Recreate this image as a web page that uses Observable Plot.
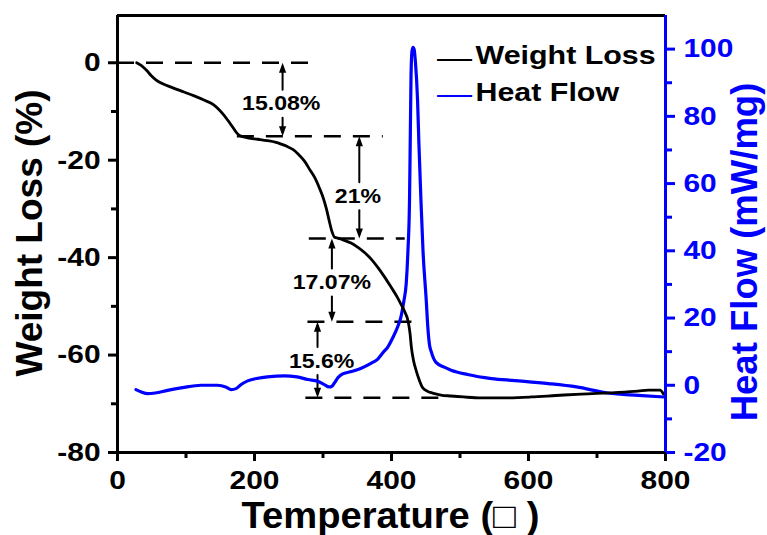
<!DOCTYPE html>
<html><head><meta charset="utf-8">
<script src="https://cdn.jsdelivr.net/npm/d3@7"></script>
<script src="https://cdn.jsdelivr.net/npm/@observablehq/plot@0.6"></script>
<style>body{margin:0;background:#fff;}</style>
</head><body><div id="chart"></div>
<script>
// ---- data ----
const weightT = [28,35,42,49,56,66,80,97,112,127,140,148,155,161,168,174,179,190,205,219,230,239,248,256,264,273,281,288,295,300,305,309,313,317,322,330,341,351,361,371,380,390,400,408,414,420,424,427,429,432,436,441,445,452,460,472,487,505,531,560,604,640,677,726,760,775,792,797];
const weightLoss = [0,-0.6,-1.5,-2.6,-3.5,-4.3,-5.1,-6.0,-6.8,-7.7,-8.6,-9.6,-10.7,-11.8,-13.2,-14.4,-15.0,-15.4,-15.7,-16.0,-16.3,-16.7,-17.2,-17.8,-18.8,-20.2,-22.0,-23.6,-25.8,-27.6,-30.0,-32.4,-34.6,-35.8,-36.0,-36.4,-37.0,-37.9,-39.0,-40.4,-42.0,-44.0,-46.2,-48.0,-49.6,-51.3,-52.9,-55.5,-58.4,-61.0,-63.2,-65.3,-66.6,-67.4,-67.8,-68.2,-68.4,-68.6,-68.8,-68.8,-68.6,-68.3,-68.0,-67.7,-67.4,-67.2,-67.2,-68.0];
const heatT = [27,35,44,55,73,95,122,146,158,166,173,181,190,205,219,243,262,278,292,302,309,313,317,322,328,340,355,370,380,388,395,402,409,414,418,421.5,424,426.3,427.5,428.5,430,431.5,433,435,438,440,443,446,450.7,453,455.5,458,465,477,487,511,546,580,629,670,716,760,799];
const heatFlow = [-1.3,-2.0,-2.5,-2.3,-1.5,-0.7,0,0,-0.5,-1.3,-1.0,0.3,1.3,2.1,2.5,2.8,2.5,1.7,1.2,0.2,-0.5,-0.3,0.8,2.3,3.3,4.0,5.0,6.5,7.8,9.8,11.5,14.2,17.4,20.5,25,30.3,40,55,75,92,99.5,100.5,100,96,85,72,55,40,25.3,17.4,12,10,6.8,5.4,4.5,3.2,2.0,1.4,0.5,-0.5,-2.3,-3.0,-3.5];

const xDomain = [0, 800];
const leftDomain = [-80, 9.7];
const rightDomain = [-20, 110];
const xTicks = [0, 200, 400, 600, 800];
const xMinor = [100, 300, 500, 700];
const leftTicks = [-80, -60, -40, -20, 0];
const leftMinor = [-70, -50, -30, -10];
const rightTicks = [-20, 0, 20, 40, 60, 80, 100];
const rightMinor = [-10, 10, 30, 50, 70, 90];

const levels = [0, -15.08, -36.08, -53.15, -68.75];
const levelStart = [0, 175, 280, 278, 275];
const levelEnd = [285, 388, 420, 432, 475];
const stepLabels = ["15.08%", "21%", "17.07%", "15.6%"];
const arrowX = [241, 353, 313, 292];
const labelX = [239, 351, 313, 298];
const labelY = [-8.4, -27.4, -45.1, -61.2];

const legendLabels = ["Weight Loss", "Heat Flow"];
const seriesColors = ["#000000", "#0000ff"];
const xTitle = "Temperature (□ )";
const yTitle = "Weight Loss (%)";
const y2Title = "Heat Flow (mW/mg)";

// ---- derived tables ----
const k = (leftDomain[1] - leftDomain[0]) / (rightDomain[1] - rightDomain[0]);
const toLeft = h => leftDomain[0] + (h - rightDomain[0]) * k;
const fromLeft = v => rightDomain[0] + (v - leftDomain[0]) / k;

const weight = weightT.map((t, i) => ({t, v: weightLoss[i]}));
const heat = heatT.map((t, i) => ({t, v: toLeft(heatFlow[i])}));
const dashes = levels.map((v, i) => ({v, x1: levelStart[i], x2: levelEnd[i]}));
const steps = stepLabels.map((label, i) => ({label, ax: arrowX[i], lx: labelX[i], ly: labelY[i], top: levels[i], bottom: levels[i + 1]}));

// narrow filled arrow heads (tip at the anchor point)
const headUp = {draw(ctx) { ctx.moveTo(0, 0); ctx.lineTo(-3.6, 10); ctx.lineTo(3.6, 10); ctx.closePath(); }};
const headDown = {draw(ctx) { ctx.moveTo(0, 0); ctx.lineTo(-3.6, -10); ctx.lineTo(3.6, -10); ctx.closePath(); }};

const blue = seriesColors[1];
const fmt = d => String(d);

const plot = Plot.plot({
  width: 767, height: 535,
  marginLeft: 117, marginRight: 102, marginTop: 15, marginBottom: 83,
  x: {domain: xDomain},
  y: {domain: leftDomain},
  style: {fontFamily: "'Liberation Sans', Arial, sans-serif", fontWeight: "bold", fontSize: "26px", color: "#000", background: "#fff", overflow: "visible"},
  marks: [
    Plot.ruleY(dashes, {y: "v", x1: "x1", x2: "x2", stroke: "#000", strokeWidth: 2.5, strokeDasharray: "17,12"}),
    Plot.arrow(steps, {x1: "ax", y1: "ly", x2: "ax", y2: "top", insetStart: 14, insetEnd: 4, headLength: 0, strokeWidth: 2, stroke: "#000"}),
    Plot.arrow(steps, {x1: "ax", y1: "ly", x2: "ax", y2: "bottom", insetStart: 14, insetEnd: 4, headLength: 0, strokeWidth: 2, stroke: "#000"}),
    Plot.dot(steps, {x: "ax", y: "top", symbol: headUp, fill: "#000", stroke: null}),
    Plot.dot(steps, {x: "ax", y: "bottom", symbol: headDown, fill: "#000", stroke: null}),
    Plot.text(steps, {x: "lx", y: "ly", text: "label", fontSize: 21, lineAnchor: "middle", fill: "#000"}),
    Plot.line(heat, {x: "t", y: "v", stroke: blue, strokeWidth: 3.2, curve: "monotone-x"}),
    Plot.line(weight, {x: "t", y: "v", stroke: seriesColors[0], strokeWidth: 2.8, curve: "monotone-x"}),
    // frame
    Plot.ruleY([leftDomain[0]], {stroke: "#000", strokeWidth: 3}),
    Plot.ruleY([leftDomain[1]], {stroke: "#000", strokeWidth: 3}),
    Plot.ruleX([xDomain[0]], {stroke: "#000", strokeWidth: 3}),
    Plot.ruleX([xDomain[1]], {stroke: blue, strokeWidth: 3}),
    // axes
    Plot.axisX(xTicks, {anchor: "bottom", tickSize: 9, tickPadding: 9, strokeWidth: 3, fontSize: 26, tickFormat: fmt, label: null}),
    Plot.axisX(xMinor, {anchor: "bottom", tickSize: 6, strokeWidth: 3, tickFormat: () => "", label: null}),
    Plot.axisY(leftTicks, {anchor: "left", tickSize: 9, tickPadding: 8, strokeWidth: 3, fontSize: 26, tickFormat: fmt, label: null}),
    Plot.axisY(leftMinor, {anchor: "left", tickSize: 6, strokeWidth: 3, tickFormat: () => "", label: null}),
    Plot.axisY(rightTicks.map(toLeft), {anchor: "right", color: blue, tickSize: 9, tickPadding: 9, strokeWidth: 3, fontSize: 26, tickFormat: v => String(Math.round(fromLeft(v))), label: null}),
    Plot.axisY(rightMinor.map(toLeft), {anchor: "right", color: blue, tickSize: 6, strokeWidth: 3, tickFormat: () => "", label: null}),
    // titles
    Plot.text([xTitle], {text: d => d, frameAnchor: "bottom", textAnchor: "middle", dx: -1, dy: 50, lineAnchor: "top", fontSize: 36, fill: "#000"}),
    Plot.text([yTitle], {text: d => d, frameAnchor: "left", textAnchor: "middle", dx: -87, dy: -1, rotate: -90, lineAnchor: "middle", fontSize: 37, fill: "#000"}),
    Plot.text([y2Title], {text: d => d, frameAnchor: "right", textAnchor: "middle", dx: 80, dy: 18, rotate: -90, lineAnchor: "middle", fontSize: 36.5, fill: blue}),
    // legend
    ...legendLabels.flatMap((label, i) => [
      Plot.text(["—"], {text: d => d, frameAnchor: "top-left", dx: 337, dy: 52.3 + i * 36, lineAnchor: "bottom", textAnchor: "middle", fontSize: 30, fontWeight: "normal", fill: seriesColors[i]}),
      Plot.text([label], {text: d => d, frameAnchor: "top-left", dx: 358, dy: 48.3 + i * 36.7, lineAnchor: "bottom", textAnchor: "start", fontSize: 26, fill: "#000"})
    ])
  ]
});

// horizontal stretch of the glyphs as in the reference
d3.select(plot).selectAll("text").each(function () {
  const s = this.textContent;
  let f = 1.15;
  if (stepLabels.includes(s)) f = 1.1;
  else if (legendLabels.includes(s) || s === "—") f = 1.17;
  else if (s === yTitle || s === y2Title) f = 1;
  else if (s === xTitle) f = 1.06;
  if (f === 1 || s === "") return;
  let t = this.getAttribute("transform");
  if (!t) {
    const x = this.getAttribute("x") || 0, y = this.getAttribute("y") || 0;
    t = `translate(${x},${y})`;
    this.removeAttribute("x"); this.removeAttribute("y");
  }
  this.setAttribute("transform", t + ` scale(${f},1)`);
});

document.getElementById("chart").appendChild(plot);
</script>
</body></html>
